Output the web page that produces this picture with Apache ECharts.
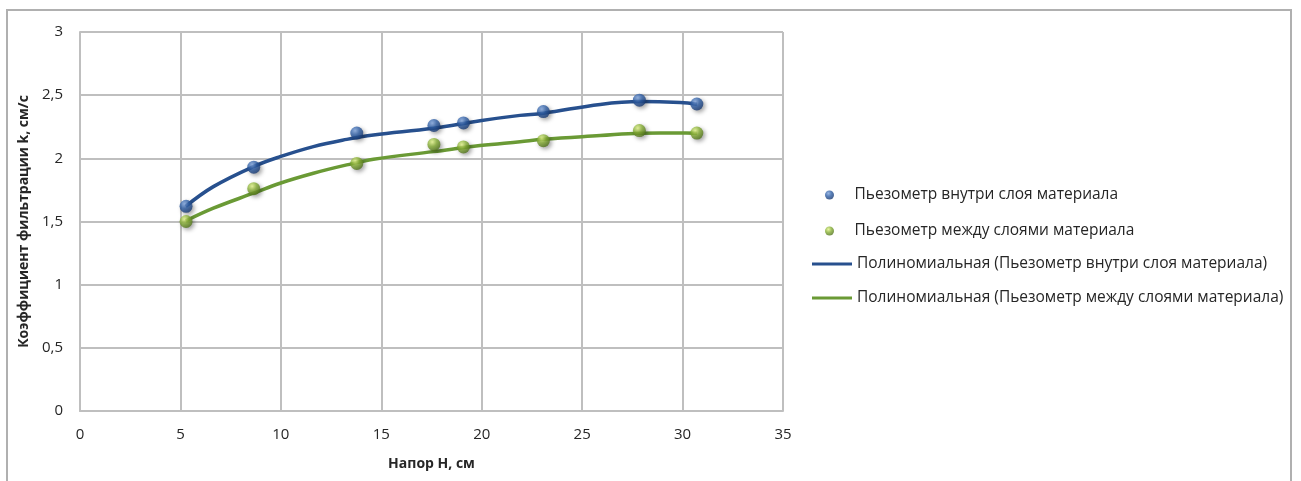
<!DOCTYPE html>
<html>
<head>
<meta charset="utf-8">
<script src="https://cdn.jsdelivr.net/npm/echarts@6/dist/echarts.min.js"></script>
<style>
html,body{margin:0;padding:0;background:#fff;}
#c{width:1301px;height:481px;}
</style>
</head>
<body>
<div id="c"></div>
<script>
// Data
var headH = [5.28, 8.65, 13.78, 17.62, 19.09, 23.07, 27.85, 30.71];
var kInside = [1.62, 1.93, 2.20, 2.26, 2.28, 2.37, 2.46, 2.43];
var kBetween = [1.50, 1.76, 1.96, 2.11, 2.09, 2.14, 2.22, 2.20];

// Trendline (polynomial) curves as drawn in the picture
var trendX = [5.26, 6.64, 8.63, 9.96, 11.62, 13.28, 14.61, 17.59, 19.92, 21.91, 23.07, 25.90, 27.89, 29.88, 30.71];
var trendInside = [1.62, 1.776, 1.934, 2.013, 2.093, 2.150, 2.185, 2.238, 2.298, 2.340, 2.357, 2.427, 2.449, 2.441, 2.428];
var trendBetween = [1.504, 1.605, 1.724, 1.803, 1.882, 1.948, 1.993, 2.053, 2.101, 2.132, 2.151, 2.180, 2.199, 2.200, 2.199];

var xTicks = [0, 5, 10, 15, 20, 25, 30, 35];
var yTicks = [0, 0.5, 1, 1.5, 2, 2.5, 3];

var names = [
  'Пьезометр внутри слоя материала',
  'Пьезометр между слоями материала',
  'Полиномиальная (Пьезометр внутри слоя материала)',
  'Полиномиальная (Пьезометр между слоями материала)'
];

function pairs(xs, ys){ return xs.map(function(x,i){ return [x, ys[i]]; }); }

var FONT = '"Open Sans", "Liberation Sans", sans-serif';
var blueLine = '#27508E', greenLine = '#6A9A35';
var blueBall = {type:'radial', x:0.38, y:0.32, r:0.75, colorStops:[{offset:0,color:'#7FA4DC'},{offset:0.45,color:'#2F5FA6'},{offset:1,color:'#15346A'}]};
var greenBall = {type:'radial', x:0.38, y:0.32, r:0.75, colorStops:[{offset:0,color:'#E4F58A'},{offset:0.45,color:'#88B036'},{offset:1,color:'#4A6B18'}]};

var chart = echarts.init(document.getElementById('c'), null, {renderer:'canvas'});
var legendText = {fontFamily:FONT, fontSize:15.5, color:'#262626'};
chart.setOption({
  animation:false,
  backgroundColor:'#ffffff',
  graphic:[{type:'rect', shape:{x:7, y:10, width:1284, height:480}, style:{fill:'none', stroke:'#B0B0B0', lineWidth:2}, silent:true}],
  grid:{left:80, right:518, top:32, bottom:70, containLabel:false},
  xAxis:{
    type:'value', min:xTicks[0], max:xTicks[xTicks.length-1], interval:5,
    name:'Напор H, см', nameLocation:'middle', nameGap:46,
    nameTextStyle:{fontFamily:FONT, fontSize:14, fontWeight:'bold', color:'#262626'},
    axisLine:{show:true, lineStyle:{color:'#BFBFBF', width:2}},
    axisTick:{show:false},
    axisLabel:{fontFamily:FONT, fontSize:15, color:'#262626', margin:16},
    splitLine:{show:true, lineStyle:{color:'#BFBFBF', width:2}}
  },
  yAxis:{
    type:'value', min:yTicks[0], max:yTicks[yTicks.length-1], interval:0.5,
    name:'Коэффициент фильтрации k, см/с', nameLocation:'middle', nameGap:49, nameRotate:90,
    nameTextStyle:{fontFamily:FONT, fontSize:14, fontWeight:'bold', color:'#262626'},
    axisLine:{show:true, lineStyle:{color:'#BFBFBF', width:2}},
    axisTick:{show:false},
    axisLabel:{fontFamily:FONT, fontSize:15, color:'#262626', margin:17, formatter:function(v){return String(v).replace('.', ',');}},
    splitLine:{show:true, lineStyle:{color:'#BFBFBF', width:2}}
  },
  legend:[
    {orient:'vertical', left:820, top:182, itemWidth:40, itemHeight:9, selectedMode:false, textStyle:legendText, data:[{name:names[0], icon:'circle'}]},
    {orient:'vertical', left:820, top:218, itemWidth:40, itemHeight:9, selectedMode:false, textStyle:legendText, data:[{name:names[1], icon:'circle'}]},
    {orient:'vertical', left:812, top:256, padding:0, itemWidth:40, itemHeight:3, selectedMode:false, textStyle:legendText, data:[{name:names[2], icon:'rect'}]},
    {orient:'vertical', left:812, top:290, padding:0, itemWidth:40, itemHeight:3, selectedMode:false, textStyle:legendText, data:[{name:names[3], icon:'rect'}]}
  ],
  series:[
    {name:names[2], type:'line', smooth:0.4, showSymbol:false, z:2, data:pairs(trendX, trendInside), lineStyle:{color:blueLine, width:3.5}, itemStyle:{color:blueLine}},
    {name:names[3], type:'line', smooth:0.4, showSymbol:false, z:2, data:pairs(trendX, trendBetween), lineStyle:{color:greenLine, width:3.5}, itemStyle:{color:greenLine}},
    {name:names[0], type:'scatter', symbol:'circle', symbolSize:13, z:5, data:pairs(headH, kInside), itemStyle:{color:blueBall, shadowColor:'rgba(0,0,0,0.45)', shadowBlur:4, shadowOffsetX:2, shadowOffsetY:2}},
    {name:names[1], type:'scatter', symbol:'circle', symbolSize:13, z:5, data:pairs(headH, kBetween), itemStyle:{color:greenBall, shadowColor:'rgba(0,0,0,0.45)', shadowBlur:4, shadowOffsetX:2, shadowOffsetY:2}}
  ]
});
</script>
</body>
</html>
